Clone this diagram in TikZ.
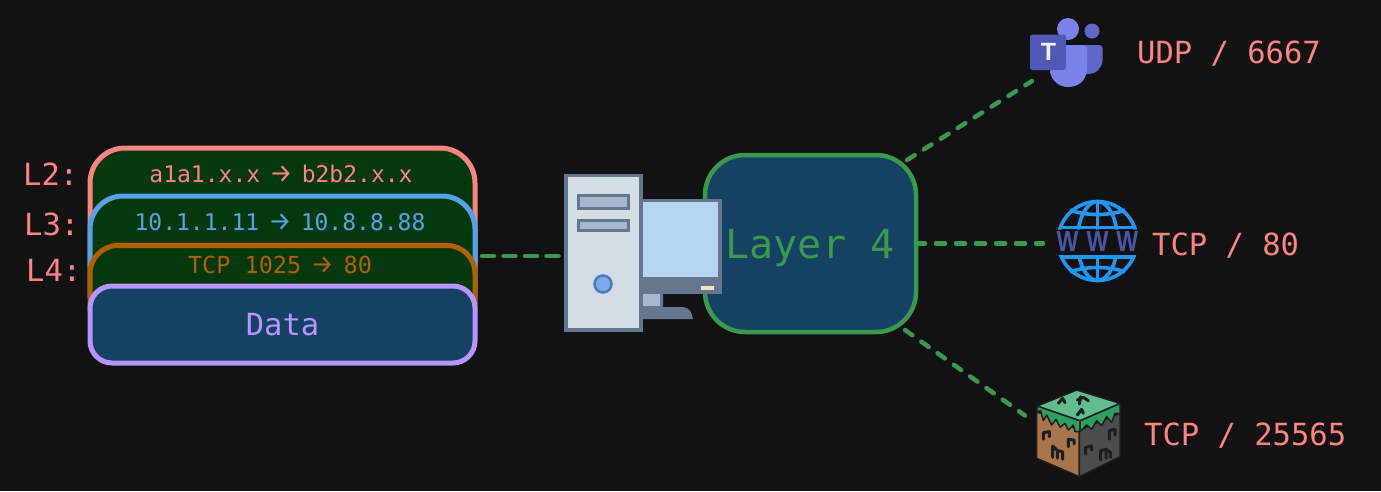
\documentclass[tikz,border=0pt]{standalone}
\usepackage{fontspec}
\newfontfamily\monof{DejaVu Sans Mono}
\newfontfamily\wwwf{Liberation Sans}
\newfontfamily\arrf{Fira Sans}
\definecolor{bgc}{HTML}{121212}
\definecolor{greenfill}{HTML}{04380D}
\definecolor{bluefill}{HTML}{154163}
\definecolor{redc}{HTML}{FF8383}
\definecolor{bluec}{HTML}{56A2E8}
\definecolor{orangec}{HTML}{B25F00}
\definecolor{purplec}{HTML}{B794FF}
\definecolor{greenc}{HTML}{3A994C}
\definecolor{pcedge}{HTML}{64778F}
\definecolor{pcbody}{HTML}{D3DDE3}
\definecolor{pcbay}{HTML}{A6B8D0}
\definecolor{pcscreen}{HTML}{B6D6F0}
\definecolor{pcbtn}{HTML}{7BAAEC}
\definecolor{pcbtnedge}{HTML}{4A7CC4}
\definecolor{pcled}{HTML}{F5E6C0}
\definecolor{tmlight}{HTML}{7B83EB}
\definecolor{tmmid}{HTML}{5F67C8}
\definecolor{tmdark}{HTML}{5059B5}
\definecolor{wwwb}{HTML}{2196F3}
\definecolor{wwwt}{HTML}{4A55A8}
\definecolor{mctop}{HTML}{62BD8C}
\definecolor{mcside}{HTML}{2E9F62}
\definecolor{mcbrown}{HTML}{A8764A}
\definecolor{mcgrey}{HTML}{4C4C4C}
\definecolor{mcline}{HTML}{1E1E1E}
\newcommand{\arr}[1]{\makebox[#1pt]{\arrf\fontsize{26}{26}\selectfont →}}
\tikzset{
  hdr/.style={rounded corners=#1, draw, line width=5pt, minimum width=385pt, inner sep=0pt, outer sep=0pt, anchor=north west},
  lbl/.style={font=\monof\fontsize{30.5}{34}\selectfont, text=redc, inner sep=0pt, anchor=west},
  small/.style={font=\monof\fontsize{#1}{26}\selectfont, inner sep=0pt},
  link/.style={draw=greenc, line width=4.5pt, line cap=round, dash pattern=on 9pt off 11pt},
  iconbox/.style={inner sep=0pt, outer sep=0pt, anchor=north west},
}
\begin{document}
\begin{tikzpicture}[x=1pt,y=-1pt]
\useasboundingbox (0,0) rectangle (1381,491);
\fill[bgc] (0,0) rectangle (1381,491);

% invisible frames for icons
\node[iconbox, minimum width=79pt, minimum height=164pt] (pc) at (564,174) {};
\node[iconbox, minimum width=73pt, minimum height=70pt] (teams) at (1030,17) {};
\node[iconbox, minimum width=82pt, minimum height=82pt] (www) at (1057,200) {};
\node[iconbox, minimum width=85pt, minimum height=87pt] (mc) at (1036,390) {};

% header stack
\node[hdr=35pt, draw=redc, fill=greenfill, minimum height=150pt] (l2box) at (90,148) {};
\node[hdr=33pt, draw=bluec, fill=greenfill, minimum height=130pt] (l3box) at (90,196) {};
\node[hdr=28pt, draw=orangec, fill=greenfill, minimum height=90pt] (l4box) at (90,245.5) {};
\node[hdr=22pt, draw=purplec, fill=bluefill, minimum height=77pt, text=purplec, font=\monof\fontsize{30.5}{34}\selectfont] (data) at (90,286) {Data};

\node[small=23, text=redc] (t2) at (281,174) {a1a1.x.x \arr{13.85} b2b2.x.x};
\node[small=23, text=bluec] (t3) at (280,222) {10.1.1.11 \arr{13.85} 10.8.8.88};
\node[small=23.5, text=orangec] (t4) at (280,265) {TCP 1025 \arr{14.15} 80};

\node[lbl] (n2) at (23,174) {L2:};
\node[lbl] (n3) at (24,224) {L3:};
\node[lbl] (n4) at (26,270) {L4:};

% layer 4 box
\node[rounded corners=40pt, draw=greenc, fill=bluefill, line width=4.5pt, minimum width=211pt, minimum height=177pt, inner sep=0pt, outer sep=0pt, anchor=north west] (layer4) at (705,155) {};
\node[inner sep=0pt, text=greenc, font=\monof\fontsize{40}{44}\selectfont] (l4txt) at (810,248) {Layer 4};

% connectors
\draw[link, dash pattern=on 12pt off 9.5pt, shorten <=7pt, shorten >=2pt] (l3box.east |- pc.west) -- (pc.west);
\draw[link, shorten >=14pt] (layer4.east) -- (layer4.east -| www.west);
\draw[link] ([xshift=-9pt,yshift=-5pt]layer4.north east) -- ([xshift=2pt,yshift=6pt]teams.south west);
\draw[link] ([xshift=-11pt,yshift=2pt]layer4.south east) -- ([xshift=-11pt,yshift=18pt]mc.west);

% computer
\begin{scope}[line join=miter]
  \fill[pcedge] (642,199) rectangle (722,294);
  \fill[pcscreen] (642,202) rectangle (718,277);
  \fill[pcedge] (642,294) -- (663,294) -- (663,307) -- (683,307) .. controls (689,307) and (692,313) .. (693,319) -- (642,319) -- cycle;
  \fill[pcbay] (642,294) rectangle (660,306);
  \fill[pcled] (701,286) rectangle (714,290);
  \filldraw[draw=pcedge, fill=pcbody, line width=3.5pt] (566,175.5) rectangle (641,330);
  \filldraw[draw=pcedge, fill=pcbay, line width=3.5pt] (578.5,195.5) rectangle (628.5,208.5);
  \filldraw[draw=pcedge, fill=pcbay, line width=3.5pt] (578.5,220.5) rectangle (628.5,230.5);
  \filldraw[draw=pcbtnedge, fill=pcbtn, line width=2.5pt] (603,284) circle (8.5);
\end{scope}

% teams
\fill[tmlight] (1068,29) circle (11);
\fill[tmmid] (1092,31) circle (7.5);
\fill[tmmid] (1080,45) -- (1099,45) .. controls (1101,45) and (1102.5,46.5) .. (1102.5,48) -- (1102.5,60) .. controls (1102.5,68) and (1096,74) .. (1088,74) -- (1080,74) -- cycle;
\fill[tmlight] (1050,45) -- (1083,45) .. controls (1085.5,45) and (1087,47) .. (1087,49) -- (1087,68) .. controls (1087,80) and (1079,87) .. (1068,87) .. controls (1059,87) and (1052,81) .. (1050,72) -- cycle;
\fill[tmdark, rounded corners=2.5pt] (1030,34.5) rectangle (1066,70);
\node[inner sep=0pt, text=white!88!tmlight, font=\wwwf\bfseries\fontsize{25}{26}\selectfont] (tletter) at (1048.5,52) {T};

% www globe
\begin{scope}
  \clip (1050,190) rectangle (1145,229.5) (1050,255) rectangle (1145,290);
  \begin{scope}[draw=wwwb, line width=3.6pt]
    \draw (1097.5,241) circle (39.5);
    \draw (1097.5,241) ellipse (20 and 39.5);
    \draw (1097.5,200) -- (1097.5,282);
    \draw (1062,227.5) -- (1133,227.5);
    \draw (1062,257) -- (1133,257);
    \draw (1070,210) .. controls (1085,216) and (1110,216) .. (1125,210);
    \draw (1070,272) .. controls (1085,266) and (1110,266) .. (1125,272);
  \end{scope}
\end{scope}
\node[inner sep=0pt, text=wwwt, xscale=0.8, transform shape, font=\wwwf\bfseries\fontsize{29}{30}\selectfont] (wwwtxt) at (1097.5,242) {W\kern10pt W\kern10pt W};

% grass block
\begin{scope}[shift={(1020,380)},x=0.3333pt,y=-0.3333pt,line join=round,line cap=round]
  \filldraw[draw=mcline, fill=mcbrown, line width=1.5pt] (50,95) -- (50,235) -- (178,290) -- (178,150) -- cycle;
  \filldraw[draw=mcline, fill=mcgrey, line width=1.5pt] (178,150) -- (178,290) -- (300,230) -- (300,100) -- cycle;
  \filldraw[draw=mcline, fill=mcside, line width=1.5pt] (52,78) -- (180,122) -- (180,155) -- (165,155) -- (160,135) -- (145,150) -- (135,130) -- (120,142) -- (108,118) -- (95,135) -- (80,105) -- (70,122) -- (62,92) -- (50,95) -- cycle;
  \filldraw[draw=mcline, fill=mcside, line width=1.5pt] (180,122) -- (300,70) -- (300,100) -- (285,100) -- (275,127) -- (260,110) -- (245,137) -- (230,122) -- (215,148) -- (200,135) -- (180,155) -- cycle;
  \filldraw[draw=mcline, fill=mctop, line width=1.5pt] (52,78) -- (170,30) -- (300,70) -- (180,122) -- cycle;
  \begin{scope}[draw=mcline, line width=3pt]
    \draw (115,70) -- (128,55) -- (135,68);
    \draw (172,60) -- (190,52) -- (205,62);
    \draw (182,50) -- (178,72);
    \draw (172,105) -- (185,88) -- (190,100);
    \draw (70,178) -- (70,158) -- (88,155) -- (88,170);
    \draw (145,200) -- (145,178) -- (162,180) -- (162,192);
    \draw (98,232) -- (98,198) -- (112,212) -- (112,235);
    \draw (112,212) -- (128,215) -- (128,238);
    \draw (197,222) -- (197,202) -- (215,198) -- (215,210);
    \draw (242,240) -- (242,212) -- (258,208) -- (258,235);
    \draw (258,208) -- (272,218) -- (272,232);
    \draw (268,178) -- (268,152) -- (285,148) -- (285,165);
  \end{scope}
\end{scope}

% port labels
\node[lbl] (udp) at (1137,53.5) {UDP / 6667};
\node[lbl] (tcp80) at (1152,245.5) {TCP / 80};
\node[lbl] (tcpmc) at (1144,435.5) {TCP / 25565};
\end{tikzpicture}
\end{document}
